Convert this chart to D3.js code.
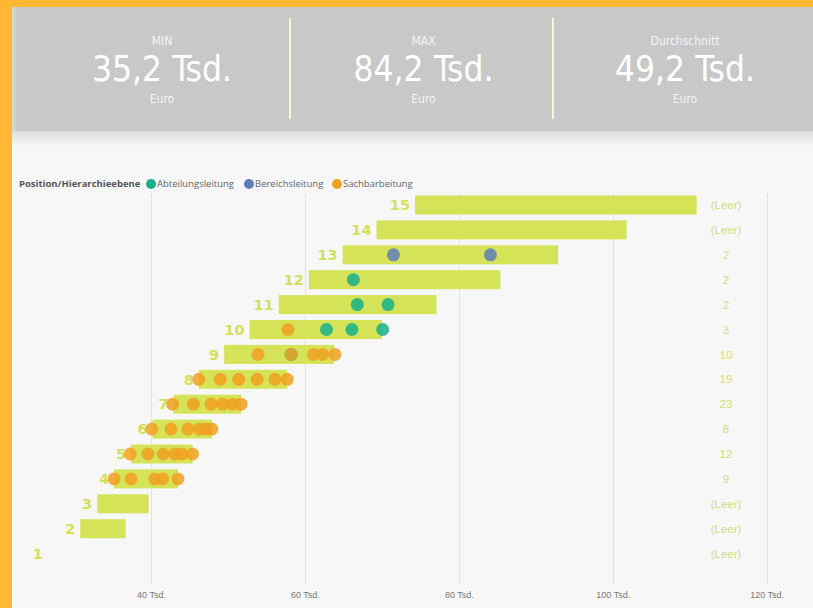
<!DOCTYPE html>
<html lang="de">
<head>
  <meta charset="utf-8">
  <title>Gehaltsbänder je Hierarchieebene</title>
  <style>
    body { margin: 0; background: #ffb833; }
    svg { display: block; }
    .kpi-title, .kpi-unit { font: 12px "Liberation Sans Narrow", "DejaVu Sans Condensed", sans-serif; fill: #f4f4f4; text-anchor: middle; }
    .kpi-value { font: 35px "Liberation Sans Narrow", "DejaVu Sans Condensed", sans-serif; fill: #ffffff; text-anchor: middle; }
    .legend text { font: 9.5px "Open Sans", sans-serif; fill: #666; }
    .legend .legend-title { font-weight: bold; fill: #555; }
    .axis text { font: 9px "Liberation Sans Narrow", sans-serif; fill: #777; }
    .axis path, .axis line { display: none; }
    .grid line { stroke: #e3e3e3; stroke-width: 1; shape-rendering: crispEdges; }
    .level-label { font: bold 14.5px "DejaVu Sans", sans-serif; fill: #d3e15a; text-anchor: end; }
    .count-label { font: 11.5px "Liberation Sans", sans-serif; fill: #cfdf7a; text-anchor: middle; }
  </style>
</head>
<body>
  <div id="chart"></div>

  <script src="https://d3js.org/d3.v7.min.js"></script>
  <script>
    // KPI cards
    var kpiTitles = ["MIN", "MAX", "Durchschnitt"];
    var kpiValues = ["35,2 Tsd.", "84,2 Tsd.", "49,2 Tsd."];

    // Hierarchieebenen, Bandbreite (Tsd. Euro) und Anzahl
    var levels  = [15, 14, 13, 12, 11, 10, 9, 8, 7, 6, 5, 4, 3, 2, 1];
    var bandMin = [74.3, 69.3, 64.9, 60.5, 56.6, 52.8, 49.5, 46.2, 42.9, 40.2, 37.4, 35.2, 33.0, 30.8, 26.6];
    var bandMax = [110.9, 101.8, 92.9, 85.4, 77.1, 70.0, 63.8, 57.7, 51.7, 47.9, 45.4, 43.5, 39.7, 36.7, 26.6];
    var counts  = ["(Leer)", "(Leer)", "2", "2", "2", "3", "10", "19", "23", "8", "12", "9", "(Leer)", "(Leer)", "(Leer)"];

    // Gehälter je Position: [Ebene, Tsd. Euro]
    var abteilungsleitung = [[12, 66.3], [11, 66.8], [11, 70.8], [10, 62.8], [10, 66.1], [10, 70.1], [9, 58.2]];
    var bereichsleitung = [[13, 71.5], [13, 84.1]];
    var sachbearbeitung = [
      [10, 57.8],
      [9, 53.9], [9, 58.2], [9, 61.1], [9, 62.3], [9, 63.9],
      [8, 46.2], [8, 49.0], [8, 51.4], [8, 53.8], [8, 56.1], [8, 57.7],
      [7, 42.8], [7, 45.5], [7, 47.8], [7, 49.3], [7, 50.6], [7, 51.7],
      [6, 40.1], [6, 42.6], [6, 44.8], [6, 46.3], [6, 47.2], [6, 47.9],
      [5, 37.3], [5, 39.6], [5, 41.6], [5, 43.1], [5, 44.0], [5, 45.4],
      [4, 35.2], [4, 37.4], [4, 40.5], [4, 41.5], [4, 43.5]
    ];
    var xTicks = [40, 60, 80, 100, 120];

    var series = [
      { name: "Abteilungsleitung", color: "#17b08a", points: abteilungsleitung },
      { name: "Bereichsleitung", color: "#5d7fb6", points: bereichsleitung },
      { name: "Sachbarbeitung", color: "#f0a020", points: sachbearbeitung }
    ];

    var W = 813, H = 608;

    var svg = d3.select("#chart").append("svg")
        .attr("width", W)
        .attr("height", H);

    var defs = svg.append("defs");
    var shadow = defs.append("linearGradient")
        .attr("id", "shadow").attr("x1", 0).attr("y1", 0).attr("x2", 0).attr("y2", 1);
    shadow.append("stop").attr("offset", "0%").attr("stop-color", "#dcdcdc");
    shadow.append("stop").attr("offset", "100%").attr("stop-color", "#f7f7f7");

    // frame + panels
    svg.append("rect").attr("x", 12).attr("y", 7).attr("width", W - 12).attr("height", H - 7).attr("fill", "#f7f7f7");
    svg.append("rect").attr("x", 12).attr("y", 130).attr("width", W - 12).attr("height", 16).attr("fill", "url(#shadow)");
    svg.append("rect").attr("x", 12).attr("y", 7).attr("width", W - 12).attr("height", 124).attr("fill", "#c8c8c8");
    svg.append("rect").attr("x", 12).attr("y", 7).attr("width", 3).attr("height", 124).attr("fill", "#d6d6d0");

    // KPI cards
    var cardX = d3.scalePoint().domain(kpiTitles).range([162, 685]);
    var cards = svg.selectAll(".kpi").data(kpiTitles).enter().append("g")
        .attr("class", "kpi")
        .attr("transform", function(d) { return "translate(" + cardX(d) + ",0)"; });
    cards.append("text").attr("class", "kpi-title").attr("y", 45).text(function(d) { return d; });
    cards.append("text").attr("class", "kpi-value").attr("y", 81).text(function(d, i) { return kpiValues[i]; });
    cards.append("text").attr("class", "kpi-unit").attr("y", 103).text("Euro");

    svg.selectAll(".sep").data([290, 553]).enter().append("line")
        .attr("x1", function(d) { return d; }).attr("x2", function(d) { return d; })
        .attr("y1", 18).attr("y2", 119)
        .attr("stroke", "#fbf3d8").attr("stroke-width", 2);

    // scales
    var x = d3.scaleLinear().domain([23.6, 120]).range([24.8, 766.7]);
    var y = d3.scalePoint().domain(levels).range([205, 553.6]);
    var barH = 19;

    // gridlines
    svg.append("g").attr("class", "grid")
      .selectAll("line").data(xTicks).enter().append("line")
        .attr("x1", function(d) { return Math.round(x(d)) + 0.5; })
        .attr("x2", function(d) { return Math.round(x(d)) + 0.5; })
        .attr("y1", 193).attr("y2", 584);

    svg.append("g")
        .attr("class", "axis")
        .attr("transform", "translate(0,589)")
        .call(d3.axisBottom(x).tickValues(xTicks).tickSize(0).tickFormat(function(d) { return d + " Tsd."; }));

    // bars
    var rows = levels.map(function(l, i) {
      return { level: l, min: bandMin[i], max: bandMax[i], count: counts[i] };
    });

    svg.append("g").selectAll("rect").data(rows).enter().append("rect")
        .attr("x", function(d) { return x(d.min); })
        .attr("y", function(d) { return y(d.level) - barH / 2; })
        .attr("width", function(d) { return x(d.max) - x(d.min); })
        .attr("height", barH)
        .attr("fill", "#d5e359");

    svg.append("g").selectAll("text").data(rows).enter().append("text")
        .attr("class", "level-label")
        .attr("x", function(d) { return x(d.min) - 5; })
        .attr("y", function(d) { return y(d.level); })
        .attr("dy", "0.36em")
        .text(function(d) { return d.level; });

    svg.append("g").selectAll("text").data(rows).enter().append("text")
        .attr("class", "count-label")
        .attr("x", 726)
        .attr("y", function(d) { return y(d.level); })
        .attr("dy", "0.36em")
        .text(function(d) { return d.count; });

    // dots
    series.forEach(function(s) {
      svg.append("g").selectAll("circle").data(s.points).enter().append("circle")
          .attr("cx", function(d) { return x(d[1]); })
          .attr("cy", function(d) { return y(d[0]); })
          .attr("r", 6.5)
          .attr("fill", s.color)
          .attr("fill-opacity", 0.85);
    });

    // legend
    var legend = svg.append("g").attr("class", "legend").attr("transform", "translate(0,184)");
    legend.append("text").attr("class", "legend-title").attr("x", 19).attr("dy", "0.35em").text("Position/Hierarchieebene");
    var legendX = [151, 249, 337];
    var items = legend.selectAll(".item").data(series).enter().append("g")
        .attr("class", "item")
        .attr("transform", function(d, i) { return "translate(" + legendX[i] + ",0)"; });
    items.append("circle").attr("r", 5).attr("fill", function(d) { return d.color; });
    items.append("text").attr("x", 6).attr("dy", "0.35em").text(function(d) { return d.name; });
  </script>
</body>
</html>
